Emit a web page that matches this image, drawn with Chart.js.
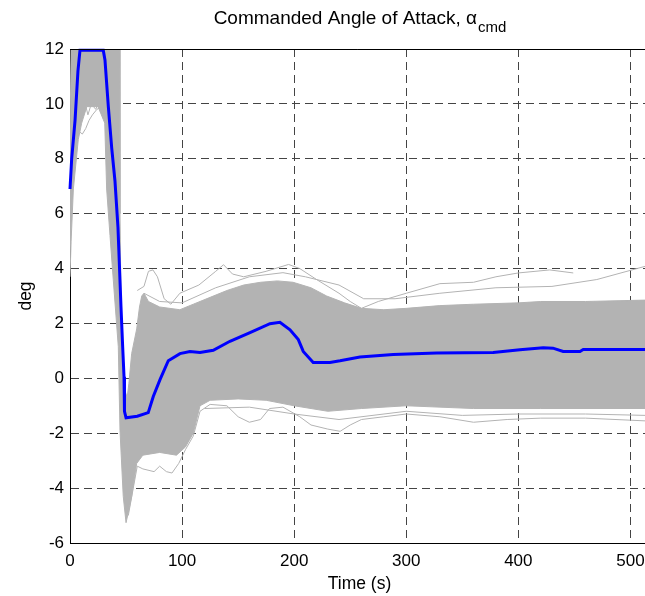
<!DOCTYPE html>
<html>
<head>
<meta charset="utf-8">
<script src="https://cdn.jsdelivr.net/npm/chart.js@4.4.1/dist/chart.umd.min.js"></script>
<style>
html,body{margin:0;padding:0;background:#fff;}
#wrap{position:relative;width:645px;height:596px;}
</style>
</head>
<body>
<div id="wrap"><canvas id="c" width="645" height="596"></canvas></div>
<script>
// ---- tick labels ----
const xTicks = [0, 100, 200, 300, 400, 500];
const yTicks = [-6, -4, -2, 0, 2, 4, 6, 8, 10, 12];

// ---- nominal commanded angle of attack (blue) ----
const nominalTime  = [0, 1.5, 4.5, 7.1, 8.9, 29.7, 31.2, 34.2, 37.2, 40.1, 42.8, 44.0, 45.5, 47.0, 48.2, 48.6, 50.0, 60, 69.8, 74.3, 80.3, 87.7, 98.1, 107, 116, 127.8, 142.7, 160.6, 178.4, 187.3, 196.3, 203.7, 208.1, 217, 231.9, 240.9, 258.7, 288.4, 327.1, 377.6, 401.4, 422.2, 430.9, 440, 455, 457.9, 513];
const nominalAlpha = [6.9, 8.0, 9.4, 11.2, 11.95, 11.95, 11.6, 9.9, 8.4, 7.2, 5.5, 4.2, 2.6, 1.15, 0.06, -1.2, -1.44, -1.38, -1.25, -0.66, -0.05, 0.64, 0.9, 0.98, 0.94, 1.02, 1.35, 1.67, 1.99, 2.04, 1.77, 1.41, 0.98, 0.58, 0.58, 0.64, 0.78, 0.87, 0.92, 0.94, 1.04, 1.11, 1.10, 0.98, 0.98, 1.05, 1.05];

// ---- Monte Carlo dispersion: dense core envelope (gray) ----
const coreUpperTime  = [0, 1, 44.3, 44.6, 45.5, 47, 48.5, 49.5, 51, 52.5, 55, 59.5, 62, 64, 66, 70, 80, 98, 110, 125, 140, 155, 170, 185, 199, 215, 229, 245, 260, 280, 300, 330, 360, 400, 420, 460, 513];
const coreUpperAlpha = [9, 12, 12, 6, 2.8, 1.2, 0.1, -0.5, -0.7, -0.2, 0.9, 1.8, 2.6, 3.0, 3.1, 2.8, 2.6, 2.5, 2.7, 2.95, 3.2, 3.4, 3.5, 3.55, 3.5, 3.3, 3.0, 2.75, 2.55, 2.5, 2.55, 2.65, 2.7, 2.75, 2.8, 2.8, 2.85];
const coreLowerTime  = [0, 1, 3, 7.4, 10.4, 15, 25, 31, 32.7, 35.7, 38.6, 43.1, 44.6, 47.5, 50, 52.5, 55, 59.5, 65, 80, 95, 103, 110, 116, 125, 150, 175, 200, 230, 260, 300, 360, 420, 513];
const coreLowerAlpha = [3.7, 5, 6.9, 8.7, 9.3, 9.9, 9.9, 9.3, 6.9, 5.2, 3.6, 1.15, -1.9, -4.3, -5.26, -4.8, -4.3, -3.1, -2.8, -2.7, -2.8, -2.5, -2.0, -1.0, -0.8, -0.75, -0.8, -1.0, -1.2, -1.1, -1.0, -1.1, -1.1, -1.1];

// ---- Monte Carlo dispersion: sparse outlying runs (gray) ----
const runATime  = [60, 66, 70, 74, 78, 84, 90, 98, 115, 130, 137, 145, 155, 175, 195, 205, 220, 240, 250, 260, 275, 300, 330, 360, 380, 400, 428, 449];
const runAAlpha = [3.2, 3.35, 3.9, 3.95, 3.7, 2.9, 2.7, 3.1, 3.4, 3.9, 4.14, 3.8, 3.7, 3.9, 4.15, 4.0, 3.6, 3.1, 2.8, 2.55, 2.8, 3.1, 3.45, 3.5, 3.7, 3.84, 3.95, 3.84];
const runBTime  = [66, 80, 100, 130, 160, 190, 210, 240, 262, 290, 330, 380, 430, 470, 513];
const runBAlpha = [3.1, 2.8, 2.75, 3.3, 3.7, 3.85, 3.7, 3.4, 2.9, 2.9, 3.1, 3.3, 3.35, 3.6, 4.08];
const runCTime  = [52, 60, 65, 75, 80, 86, 91, 97, 103, 110, 116, 125, 140, 150, 160, 170, 178, 190, 205, 215, 230, 241, 250, 260, 280, 300, 330, 360, 390, 420, 460, 513];
const runCAlpha = [-5.0, -3.2, -3.3, -3.4, -3.2, -3.4, -3.45, -3.1, -2.6, -2.1, -1.2, -0.95, -1.0, -1.4, -1.6, -1.5, -1.1, -1.05, -1.4, -1.7, -1.85, -1.93, -1.7, -1.5, -1.4, -1.3, -1.4, -1.6, -1.5, -1.45, -1.45, -1.55];
const runDTime  = [120, 160, 200, 240, 300, 350, 400, 460, 513];
const runDAlpha = [-1.1, -1.05, -1.3, -1.5, -1.2, -1.35, -1.3, -1.3, -1.35];
const runETime  = [8, 11, 14, 17, 20, 24, 28, 31];
const runEAlpha = [9.0, 8.9, 9.1, 9.4, 9.6, 9.8, 9.9, 9.4];
const runFTime  = [10, 13, 16, 19, 23, 27, 31];
const runFAlpha = [9.7, 10.1, 9.6, 10.0, 9.8, 10.2, 9.7];

const GRAY = '#b3b3b3';
const FONT = '"Liberation Sans", Arial, Helvetica, sans-serif';

function pts(t, a) { return t.map((v, i) => ({x: v, y: a[i]})); }
function grayRun(t, a) {
  return {data: pts(t, a), borderColor: GRAY, borderWidth: 1, pointRadius: 0, fill: false, tension: 0, order: 2};
}

const datasets = [
  {data: pts(coreUpperTime, coreUpperAlpha), borderColor: GRAY, borderWidth: 1, pointRadius: 0, fill: false, tension: 0, order: 3},
  {data: pts(coreLowerTime, coreLowerAlpha), borderColor: GRAY, borderWidth: 1, pointRadius: 0, fill: '-1', backgroundColor: GRAY, tension: 0, order: 3},
  grayRun(runATime, runAAlpha),
  grayRun(runBTime, runBAlpha),
  grayRun(runCTime, runCAlpha),
  grayRun(runDTime, runDAlpha),
  grayRun(runETime, runEAlpha),
  grayRun(runFTime, runFAlpha),
  {data: pts(nominalTime, nominalAlpha), borderColor: '#0000ff', borderWidth: 3, pointRadius: 0, fill: false, tension: 0, clip: 4, order: 0}
];

const decor = {
  id: 'decor',
  afterDraw(chart) {
    const ctx = chart.ctx, a = chart.chartArea;
    ctx.save();
    ctx.strokeStyle = '#000'; ctx.lineWidth = 1;
    ctx.beginPath(); ctx.moveTo(a.left, Math.round(a.top) + 0.5); ctx.lineTo(a.right, Math.round(a.top) + 0.5); ctx.stroke();
    ctx.fillStyle = '#000';
    const main = 'Commanded Angle of Attack, \u03b1';
    const sub = 'cmd';
    ctx.font = '19px ' + FONT;
    const wMain = ctx.measureText(main).width;
    ctx.font = '15px ' + FONT;
    const wSub = ctx.measureText(sub).width;
    const cx = (a.left + a.right) / 2 + 2;
    const x0 = cx - (wMain + wSub) / 2;
    ctx.textBaseline = 'alphabetic'; ctx.textAlign = 'left';
    ctx.font = '19px ' + FONT;
    ctx.fillText(main, x0, 24);
    ctx.font = '15px ' + FONT;
    ctx.fillText(sub, x0 + wMain + 1, 32);
    ctx.font = '17.5px ' + FONT;
    ctx.textAlign = 'center';
    ctx.fillText('Time (s)', cx, 589);
    ctx.translate(26, (a.top + a.bottom) / 2);
    ctx.rotate(-Math.PI / 2);
    ctx.textBaseline = 'middle';
    ctx.fillText('deg', 0, 0);
    ctx.restore();
  }
};

new Chart(document.getElementById('c'), {
  type: 'line',
  data: {datasets},
  plugins: [decor],
  options: {
    responsive: false,
    animation: false,
    events: [],
    layout: {padding: {top: 49, left: 0, right: 0, bottom: 0}},
    plugins: {legend: {display: false}, tooltip: {enabled: false}, title: {display: false}},
    scales: {
      x: {
        type: 'linear', min: 0, max: 513,
        afterBuildTicks: s => { s.ticks = xTicks.map(v => ({value: v})); },
        afterFit: s => { s.height = 53; s.paddingLeft = 0; s.paddingRight = 0; },
        grid: {color: '#444', lineWidth: 1, drawTicks: false},
        border: {display: true, color: '#000', width: 1, dash: [8, 5]},
        ticks: {color: '#000', font: {size: 17, family: FONT}, padding: 8, maxRotation: 0, autoSkip: false}
      },
      y: {
        type: 'linear', min: -6, max: 12,
        afterBuildTicks: s => { s.ticks = yTicks.map(v => ({value: v})); },
        afterFit: s => { s.width = 70; s.paddingTop = 0; s.paddingBottom = 0; },
        grid: {color: '#444', lineWidth: 1, drawTicks: false},
        border: {display: true, color: '#000', width: 1, dash: [8, 5]},
        ticks: {color: '#000', font: {size: 17, family: FONT}, padding: 6, autoSkip: false}
      }
    }
  }
});
</script>
</body>
</html>
